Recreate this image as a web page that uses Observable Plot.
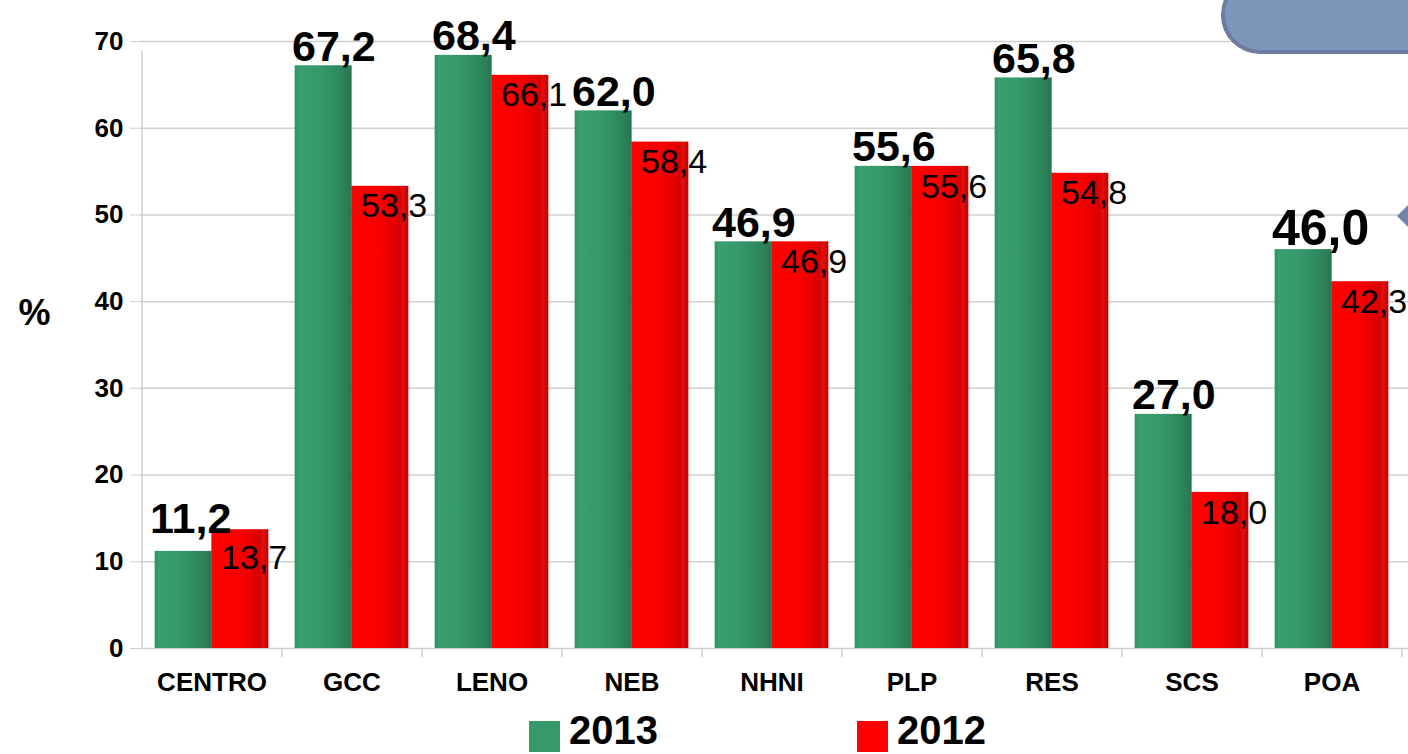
<!DOCTYPE html>
<html>
<head>
<meta charset="utf-8">
<script src="https://cdn.jsdelivr.net/npm/d3@7"></script>
<script src="https://cdn.jsdelivr.net/npm/@observablehq/plot@0.6"></script>
<style>
  html, body { margin: 0; padding: 0; background: #fff; }
  #wrap { position: relative; width: 1408px; height: 754px; overflow: hidden; font-family: "Liberation Sans", Arial, sans-serif; }
  #chart svg { display: block; }
  .deco-box { position: absolute; left: 1221px; top: -24px; width: 260px; height: 70px; border-radius: 46px; background: #7b97b7; border: 4px solid #6f7ba0; }
  .deco-tri { position: absolute; left: 1397px; top: 204px; width: 0; height: 0; border-top: 12px solid transparent; border-bottom: 12px solid transparent; border-right: 12px solid #7584aa; }
  .legend-item { position: absolute; top: 712px; height: 36px; display: flex; align-items: flex-start; font-weight: bold; font-size: 40px; line-height: 34px; color: #000; }
  .legend-item .sw { width: 31px; height: 31px; margin-right: 9px; margin-top: 9px; }
  .legend-item span { display: block; height: 34px; line-height: 34px; padding-top: 1px; }
</style>
</head>
<body>
<svg width="0" height="0" style="position:absolute">
  <defs>
    <linearGradient id="g2013" x1="0" x2="1" y1="0" y2="0">
      <stop offset="0" stop-color="#2f9061"/>
      <stop offset="0.08" stop-color="#3a9f6e"/>
      <stop offset="0.45" stop-color="#34986a"/>
      <stop offset="0.75" stop-color="#2f8a5e"/>
      <stop offset="1" stop-color="#277651"/>
    </linearGradient>
    <linearGradient id="g2012" x1="0" x2="1" y1="0" y2="0">
      <stop offset="0" stop-color="#ff0000"/>
      <stop offset="0.5" stop-color="#fa0000"/>
      <stop offset="0.85" stop-color="#d80000"/>
      <stop offset="0.9" stop-color="#e31010"/>
      <stop offset="1" stop-color="#c20000"/>
    </linearGradient>
  </defs>
</svg>
<div id="wrap">
  <div id="chart"></div>
  <div class="deco-box"></div>
  <div class="deco-tri"></div>
  <div id="legend"></div>
</div>
<script>
const categories = ["CENTRO", "GCC", "LENO", "NEB", "NHNI", "PLP", "RES", "SCS", "POA"];
const values2013 = [11.2, 67.2, 68.4, 62.0, 46.9, 55.6, 65.8, 27.0, 46.0];
const values2012 = [13.7, 53.3, 66.1, 58.4, 46.9, 55.6, 54.8, 18.0, 42.3];
const seriesNames = ["2013", "2012"];
const seriesColors = ["#35996a", "#ff0000"];
const yTicks = [0, 10, 20, 30, 40, 50, 60, 70];

const data2013 = categories.map((c, i) => ({cat: c, value: values2013[i]}));
const data2012 = categories.map((c, i) => ({cat: c, value: values2012[i]}));
const fmt = v => v.toFixed(1).replace(".", ",");

const font = "'Liberation Sans', Arial, sans-serif";
const raised = new Set(["CENTRO"]);   // labels shifted to avoid the neighbour label
const bigLabel = new Set(["POA"]);

const chart = Plot.plot({
  width: 1408,
  height: 705,
  marginLeft: 140,
  marginRight: 0,
  marginTop: 41,
  marginBottom: 57,
  style: {fontFamily: font, background: "transparent", overflow: "visible"},
  x: {domain: categories, range: [141, 1401], paddingInner: 0.595, paddingOuter: 0.2975, label: null},
  y: {domain: [0, 70], label: null},
  marks: [
    Plot.ruleY(yTicks, {stroke: "#cfcfcf", strokeWidth: 1.5}),
    Plot.ruleX([categories[0]], {x: d => d, dx: -70, y1: 0, y2: 70, stroke: "#cfcfcf", strokeWidth: 1.5, insetBottom: -9}),
    Plot.ruleX(categories, {x: d => d, dx: 70, y1: 0, y2: 0, stroke: "#cfcfcf", strokeWidth: 1.5, insetBottom: -9}),
    Plot.axisY({ticks: yTicks, tickSize: 10, tickPadding: 7, stroke: "#cfcfcf", fontSize: 26, fontWeight: "bold", fill: "#000", label: null, tickFormat: d => String(d)}),
    Plot.axisX({tickSize: 0, tickPadding: 24, fontSize: 26, fontWeight: "bold", fill: "#000", label: null}),
    Plot.barY(data2013, {x: "cat", y: "value", dx: -28.35, fill: "url(#g2013)"}),
    Plot.barY(data2012, {x: "cat", y: "value", dx: 28.35, fill: "url(#g2012)"}),
    Plot.text(data2013.filter(d => !raised.has(d.cat)), {x: "cat", y: "value", text: d => fmt(d.value), dx: -60, dy: -5, textAnchor: "start", lineAnchor: "bottom",
      fontSize: d => bigLabel.has(d.cat) ? 50 : 43, fontWeight: "bold", fill: "#000"}),
    Plot.text(data2013.filter(d => raised.has(d.cat)), {x: "cat", y: "value", text: d => fmt(d.value), dx: -62, dy: -18, textAnchor: "start", lineAnchor: "bottom",
      fontSize: 43, fontWeight: "bold", fill: "#000"}),
    Plot.text(data2012.filter(d => !raised.has(d.cat)), {x: "cat", y: "value", text: d => fmt(d.value), dx: 9, dy: 7, textAnchor: "start", lineAnchor: "top",
      fontSize: 34, fill: "#000"}),
    Plot.text(data2012.filter(d => raised.has(d.cat)), {x: "cat", y: "value", text: d => fmt(d.value), dx: 9, dy: 15, textAnchor: "start", lineAnchor: "top",
      fontSize: 34, fill: "#000"}),
    Plot.text(["%"], {frameAnchor: "left", textAnchor: "middle", dx: -106, dy: -32, text: d => d, fontSize: 36, fontWeight: "bold", fill: "#000"})
  ]
});
document.getElementById("chart").appendChild(chart);

const legend = document.getElementById("legend");
const legendLefts = [529, 857];
seriesNames.forEach((name, i) => {
  const item = document.createElement("div");
  item.className = "legend-item";
  item.style.left = legendLefts[i] + "px";
  const sw = document.createElement("div");
  sw.className = "sw";
  sw.style.background = seriesColors[i];
  const label = document.createElement("span");
  label.textContent = name;
  item.appendChild(sw);
  item.appendChild(label);
  legend.appendChild(item);
});
</script>
</body>
</html>
